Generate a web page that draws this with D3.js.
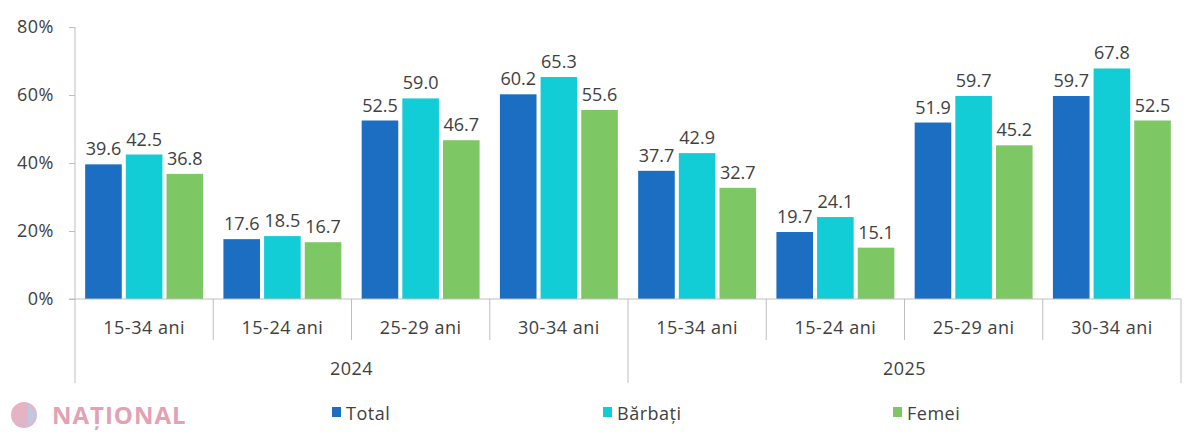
<!DOCTYPE html>
<html>
<head>
<meta charset="utf-8">
<script src="https://cdn.jsdelivr.net/npm/d3@7"></script>
<style>
  body { margin: 0; background: #fff; }
  text { font-family: "Open Sans", sans-serif; fill: #404040; letter-spacing: 0.5px; }
</style>
</head>
<body>
<div class="chart"></div>
<script>
// date: rata de ocupare pe grupe de varsta
var years = ["2024", "2025"];
var ageGroups = ["15-34 ani", "15-24 ani", "25-29 ani", "30-34 ani"];
var series = ["Total", "Bărbați", "Femei"];
var total   = [39.6, 17.6, 52.5, 60.2, 37.7, 19.7, 51.9, 59.7];
var barbati = [42.5, 18.5, 59.0, 65.3, 42.9, 24.1, 59.7, 67.8];
var femei   = [36.8, 16.7, 46.7, 55.6, 32.7, 15.1, 45.2, 52.5];
var yTicks = [0, 20, 40, 60, 80];
var colors = ["#1b6ec2", "#13cdd6", "#7dc864"];

var w = 1200, h = 438;
var svg = d3.select(".chart").append("svg")
  .attr("width", w).attr("height", h);

var mLeft = 75, mRight = 1181, mTop = 27, mBottom = 299;

// categorii: an + grupa
var cats = [];
years.forEach(function(y) {
  ageGroups.forEach(function(g) { cats.push(y + "|" + g); });
});
var valori = [total, barbati, femei];

var x0 = d3.scaleBand().domain(cats).range([mLeft, mRight]);
var x1 = d3.scaleBand().domain(series).range([0, x0.bandwidth()])
  .paddingInner(0.1).paddingOuter(0.25);
var y = d3.scaleLinear().domain([0, 80]).range([mBottom, mTop]);
var color = d3.scaleOrdinal().domain(series).range(colors);

// axa y
var yAxis = svg.append("g")
  .attr("transform", "translate(" + mLeft + ",0)")
  .call(d3.axisLeft(y).tickValues(yTicks).tickSize(6).tickPadding(15)
    .tickFormat(function(d) { return d + "%"; }));
yAxis.selectAll("line").attr("stroke", "#bfbfbf");
yAxis.select(".domain").attr("stroke", "#bfbfbf").attr("d", "M0," + mTop + "V" + mBottom);
yAxis.selectAll("text").style("font-size", "18px").style("font-family", "Open Sans").attr("fill", "#404040");

// bare
cats.forEach(function(c, i) {
  var g = svg.append("g").attr("transform", "translate(" + x0(c) + ",0)");
  series.forEach(function(s, k) {
    var v = valori[k][i];
    g.append("rect")
      .attr("x", x1(s))
      .attr("y", y(v))
      .attr("width", x1.bandwidth())
      .attr("height", y(0) - y(v))
      .attr("fill", color(s));
    g.append("text")
      .attr("x", x1(s) + x1.bandwidth() / 2)
      .attr("y", y(v) - 9)
      .attr("text-anchor", "middle")
      .style("font-size", "18px")
      .style("letter-spacing", "0px")
      .text(v.toFixed(1));
  });
});

// axa x
svg.append("line")
  .attr("x1", mLeft - 6).attr("x2", mRight)
  .attr("y1", mBottom).attr("y2", mBottom)
  .attr("stroke", "#bfbfbf");

cats.forEach(function(c, i) {
  var xs = x0(c);
  var lung = (i % ageGroups.length == 0) ? 383 : 340;
  svg.append("line")
    .attr("x1", xs).attr("x2", xs)
    .attr("y1", mBottom).attr("y2", lung)
    .attr("stroke", "#bfbfbf");
  svg.append("text")
    .attr("x", xs + x0.bandwidth() / 2)
    .attr("y", 334)
    .attr("text-anchor", "middle")
    .style("font-size", "18px")
    .text(c.split("|")[1]);
});
svg.append("line")
  .attr("x1", mRight).attr("x2", mRight)
  .attr("y1", mBottom).attr("y2", 383)
  .attr("stroke", "#bfbfbf");

years.forEach(function(yr, j) {
  var first = x0(yr + "|" + ageGroups[0]);
  var last = x0(yr + "|" + ageGroups[ageGroups.length - 1]) + x0.bandwidth();
  svg.append("text")
    .attr("x", (first + last) / 2)
    .attr("y", 375)
    .attr("text-anchor", "middle")
    .style("font-size", "18px")
    .text(yr);
});

// legenda
var legX = [332, 603, 893];
series.forEach(function(s, k) {
  svg.append("rect")
    .attr("x", legX[k]).attr("y", 407)
    .attr("width", 9).attr("height", 10)
    .attr("fill", color(s));
  svg.append("text")
    .attr("x", legX[k] + 14).attr("y", 420)
    .style("font-size", "18px")
    .text(s);
});

// sigla
var defs = svg.append("defs");
var gr = defs.append("linearGradient").attr("id", "lg")
  .attr("x1", "0").attr("y1", "0").attr("x2", "1").attr("y2", "1");
gr.append("stop").attr("offset", "0").attr("stop-color", "#e7a3b3");
gr.append("stop").attr("offset", "1").attr("stop-color", "#d7a8c8");
svg.append("circle").attr("cx", 24).attr("cy", 415).attr("r", 13)
  .attr("fill", "url(#lg)").attr("opacity", 0.85);
svg.append("path").attr("d", "M28,403 L37,415 L28,427 Z")
  .attr("fill", "#b7cde6").attr("opacity", 0.8);
svg.append("text")
  .attr("x", 52).attr("y", 424)
  .attr("textLength", 134)
  .style("font-size", "24px").style("font-weight", "bold")
  .style("font-family", "Open Sans")
  .style("fill", "#e3a2b4")
  .text("NAȚIONAL");
</script>
</body>
</html>
